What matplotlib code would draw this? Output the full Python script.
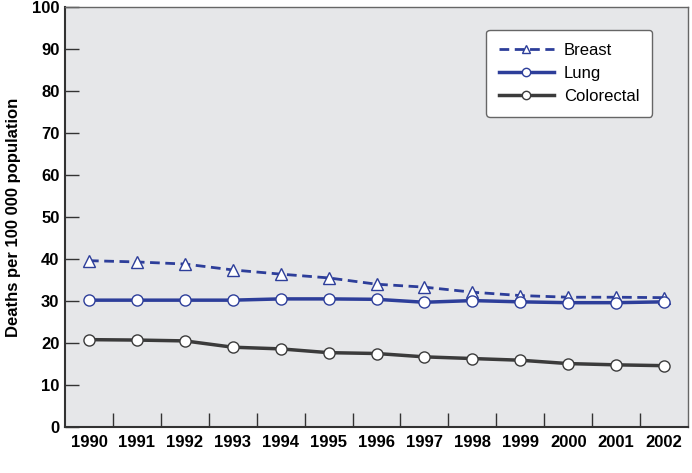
import matplotlib
matplotlib.use("Agg")
import matplotlib.pyplot as plt

plt.rcParams['font.family'] = ['Liberation Sans', 'DejaVu Sans']

years = [1990, 1991, 1992, 1993, 1994, 1995, 1996, 1997, 1998, 1999, 2000, 2001, 2002]
breast = [39.6, 39.3, 38.8, 37.4, 36.4, 35.5, 34.0, 33.3, 32.1, 31.3, 30.9, 30.9, 30.8]
lung = [30.2, 30.2, 30.2, 30.2, 30.5, 30.5, 30.4, 29.7, 30.1, 29.8, 29.6, 29.6, 29.8]
colorectal = [20.8, 20.7, 20.5, 19.0, 18.6, 17.7, 17.5, 16.7, 16.3, 15.9, 15.1, 14.8, 14.6]

blue = '#2d3e9a'
grey = '#3b3b3b'

fig = plt.figure(figsize=(6.92, 4.73), dpi=100)
ax = fig.add_axes([65/692, 46/473, 623/692, 420/473])
ax.set_facecolor('#e6e7e9')

ax.plot(years, breast, color=blue, lw=2, ls=(0, (3.5, 2)), marker='^', ms=8,
        mfc='white', mec=blue, mew=1, label='Breast')
ax.plot(years, lung, color=blue, lw=2.5, marker='o', ms=8,
        mfc='white', mec=blue, mew=1, label='Lung')
ax.plot(years, colorectal, color=grey, lw=2.5, marker='o', ms=8,
        mfc='white', mec=grey, mew=1, label='Colorectal')

ax.set_xlim(1989.5, 2002.5)
ax.set_ylim(0, 100)
ax.set_yticks(range(0, 101, 10))
ax.set_xticks(years)
ax.set_xticks([y + 0.5 for y in years[:-1]], minor=True)
ax.tick_params(axis='x', which='major', length=0, pad=6, labelsize=12)
ax.tick_params(axis='x', which='minor', direction='in', length=10, width=1, color='#333333')
ax.tick_params(axis='y', direction='in', length=10, width=1, color='#333333', labelsize=12, pad=4)
for lab in ax.get_xticklabels() + ax.get_yticklabels():
    lab.set_fontweight('bold')

for s in ['left', 'bottom']:
    ax.spines[s].set_color('#333333')
    ax.spines[s].set_linewidth(1.5)
for s in ['top', 'right']:
    ax.spines[s].set_color('#666666')
    ax.spines[s].set_linewidth(1)

ax.set_ylabel('Deaths per 100 000 population', fontsize=12, fontweight='bold', labelpad=8)

leg = ax.legend(loc='upper right', bbox_to_anchor=(0.942, 0.945), borderaxespad=0,
                fontsize=12, handlelength=3.3, markerscale=0.75, frameon=True,
                fancybox=True, edgecolor='#666666', facecolor='white', framealpha=1,
                borderpad=0.75, labelspacing=0.5, handletextpad=0.6)
leg.get_frame().set_linewidth(1)

fig.savefig('out.png', dpi=100)
